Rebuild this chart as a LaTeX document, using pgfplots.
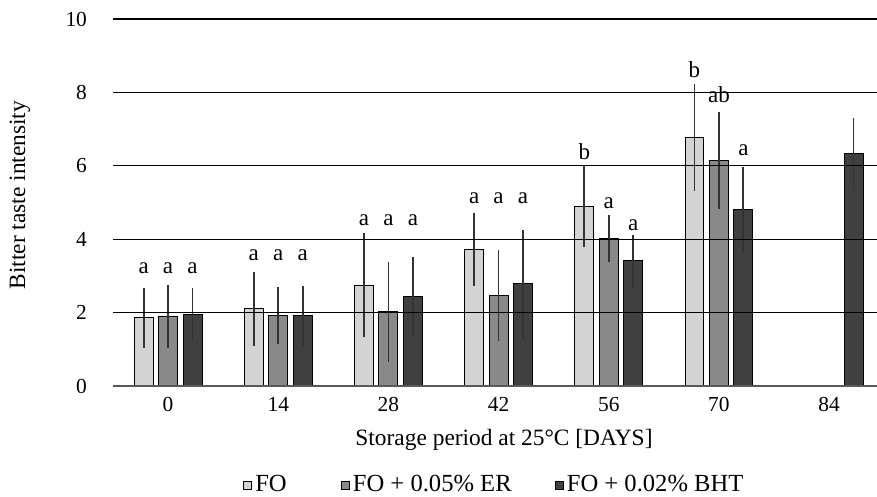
\documentclass[border=0pt]{standalone}
\usepackage{fontspec}
\setmainfont{Liberation Serif}
\usepackage{pgfplots}
\pgfplotsset{compat=1.18}
\usepackage{pgfplotstable}
\definecolor{cFO}{HTML}{D3D3D3}
\definecolor{cER}{HTML}{898989}
\definecolor{cBHT}{HTML}{404040}
\definecolor{cErr}{HTML}{333333}

% x = category index + bar offset
\pgfplotstableread{
x y e
-0.222 1.86 0.82
0.778 2.10 1.00
1.778 2.75 1.41
2.778 3.72 1.00
3.778 4.90 1.10
4.778 6.77 1.45
}\fo
\pgfplotstableread{
x y e
0 1.90 0.86
1 1.93 0.78
2 2.02 1.37
3 2.47 1.24
4 4.02 0.63
5 6.14 1.32
}\er
\pgfplotstableread{
x y e
0.222 1.96 0.70
1.222 1.91 0.82
2.222 2.43 1.09
3.222 2.78 1.46
4.222 3.41 0.70
5.222 4.80 1.18
6.222 6.34 0.96
}\bht
\pgfplotstableread{
x y l
-0.222 3.07 a
0 3.07 a
0.222 3.07 a
0.778 3.43 a
1 3.43 a
1.222 3.43 a
1.778 4.36 a
2 4.36 a
2.222 4.36 a
2.778 4.98 a
3 4.98 a
3.222 4.98 a
3.778 6.16 b
4 4.84 a
4.222 4.23 a
4.778 8.41 b
5 7.73 ab
5.222 6.29 a
}\letters

\begin{document}
\begin{tikzpicture}
\begin{axis}[
  name=ax,
  scale only axis,
  width=385.6pt, height=183.5pt,
  xmin=-0.5, xmax=6.5, ymin=0, ymax=10,
  axis line style={draw=none},
  xtick={0,...,6},
  xticklabels={0,14,28,42,56,70,84},
  ytick={2,4,...,10},
  extra y ticks={0},
  extra y tick style={grid style={draw=black!65, line width=0.6pt}},
  ymajorgrids,
  grid style={draw=black, line width=0.6pt},
  major tick length=0pt,
  tick style={draw=none},
  axis on top,
  /pgf/number format/assume math mode=true,
  yticklabel style={font=\fontsize{10.7}{12}\selectfont, xshift=-9.5pt},
  xticklabel style={font=\fontsize{10.7}{12}\selectfont, yshift=-2pt},
  xlabel={Storage period at 25°C [DAYS]},
  ylabel={Bitter taste intensity},
  every axis x label/.style={at={(rel axis cs:0.507,0)}, anchor=center, yshift=-27pt, font=\fontsize{11.7}{13}\selectfont},
  every axis y label/.style={at={(rel axis cs:0,0.52)}, rotate=90, anchor=center, yshift=46.5pt, font=\fontsize{11.7}{13}\selectfont},
  legend columns=3,
  legend style={at={(rel axis cs:0.495,0)}, anchor=center, yshift=-49.5pt, draw=none, fill=none,
    font=\fontsize{12.3}{14}\selectfont,
    /tikz/column 2/.style={column sep=25.5pt},
    /tikz/column 4/.style={column sep=20pt},
    nodes={inner xsep=1.5pt}},
  legend image code/.code={\draw[#1, draw=black, line width=0.4pt] (0pt,-2.2pt) rectangle (4.2pt,2pt);},
  error bars/error bar style={draw=cErr, line width=0.9pt},
  error bars/error mark=none,
]
\addplot[ybar, bar width=0.172, bar shift=0, fill=cFO, draw=black, line width=0.5pt,
  error bars/.cd, y dir=both, y explicit] table[x=x, y=y, y error=e] {\fo};
\addlegendentry{FO}
\addplot[ybar, bar width=0.172, bar shift=0, fill=cER, draw=black, line width=0.5pt,
  error bars/.cd, y dir=both, y explicit] table[x=x, y=y, y error=e] {\er};
\addlegendentry{FO + 0.05\% ER}
\addplot[ybar, bar width=0.172, bar shift=0, fill=cBHT, draw=black, line width=0.5pt,
  error bars/.cd, y dir=both, y explicit] table[x=x, y=y, y error=e] {\bht};
\addlegendentry{FO + 0.02\% BHT}
\addplot[draw=none, mark=none, forget plot, nodes near coords, point meta=explicit symbolic,
  every node near coord/.style={anchor=base, inner sep=0pt, font=\fontsize{11.5}{13}\selectfont, black}]
  table[x=x, y=y, meta=l] {\letters};
\end{axis}
\pgfresetboundingbox
\path[use as bounding box] ([xshift=-56.5pt,yshift=-55.5pt]ax.south west) rectangle ([xshift=382pt,yshift=193pt]ax.south west);
\end{tikzpicture}
\end{document}
